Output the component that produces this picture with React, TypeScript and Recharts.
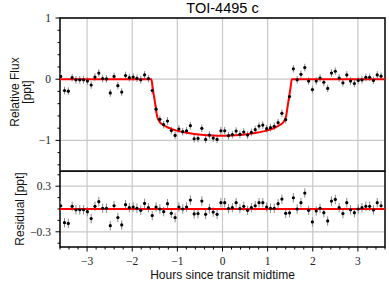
import React from 'react';
import {
  ComposedChart,
  Scatter,
  Line,
  XAxis,
  YAxis,
  ErrorBar,
  CartesianGrid,
  ReferenceLine,
  ReferenceArea,
} from 'recharts';

// binned photometry, hours from transit midtime
const hours = [
  -3.585, -3.5, -3.416, -3.331, -3.247, -3.162, -3.078, -2.993, -2.909, -2.825,
  -2.74, -2.655, -2.571, -2.486, -2.402, -2.318, -2.233, -2.148, -2.064, -1.979,
  -1.895, -1.811, -1.726, -1.641, -1.557, -1.472, -1.388, -1.303, -1.219, -1.134,
  -1.05, -0.966, -0.881, -0.796, -0.712, -0.628, -0.543, -0.458, -0.374, -0.29,
  -0.205, -0.12, -0.036, 0.049, 0.133, 0.218, 0.302, 0.386, 0.471, 0.556,
  0.64, 0.725, 0.809, 0.893, 0.978, 1.063, 1.147, 1.232, 1.316, 1.4,
  1.485, 1.57, 1.654, 1.738, 1.823, 1.908, 1.992, 2.077, 2.161, 2.245,
  2.33, 2.414, 2.499, 2.584, 2.668, 2.753, 2.837, 2.922, 3.006, 3.09,
  3.175, 3.26, 3.344, 3.428, 3.513,
];

// relative flux [ppt]
const flux = [
  0.045, -0.185, -0.195, 0.025, -0.01, -0.01, -0.01, -0.03, -0.095, 0.035,
  0.1, 0.01, 0.005, -0.225, 0.045, -0.105, -0.21, 0.06, 0.025, 0.035,
  0.015, -0.01, 0.07, 0.01, -0.185, -0.49, -0.656, -0.743, -0.683, -0.84,
  -0.918, -0.814, -0.858, -0.842, -0.76, -0.973, -0.967, -0.803, -0.984, -0.913,
  -0.962, -0.984, -0.842, -0.842, -0.923, -0.907, -0.847, -0.902, -0.863, -0.913,
  -0.869, -0.825, -0.765, -0.749, -0.809, -0.792, -0.77, -0.71, -0.557, -0.661,
  -0.284, 0.17, -0.01, 0.08, 0.19, -0.03, -0.17, -0.03, 0.02, -0.05,
  -0.15, 0.1, 0.13, 0.02, -0.06, 0.07, -0.03, -0.07, -0.02, -0.01,
  0.03, 0.03, -0.02, 0.07, 0.05,
];

// residual [ppt]
const residual = [
  0.043, -0.18, -0.19, 0.035, -0.01, -0.01, -0.01, -0.035, -0.126, 0.035,
  0.096, 0.01, 0.01, -0.22, 0.043, -0.113, -0.21, 0.057, 0.017, 0.026,
  0.01, -0.017, 0.074, 0.017, -0.087, 0.026, 0.0, -0.035, 0.07, -0.057,
  -0.113, 0.026, 0.0, 0.026, 0.117, -0.065, -0.06, 0.104, -0.07, 0.004,
  -0.04, -0.07, 0.083, 0.083, 0.004, 0.017, 0.083, 0.004, 0.035, -0.017,
  0.017, 0.043, 0.083, 0.083, 0.026, 0.01, 0.01, 0.07, 0.13, -0.057,
  -0.05, 0.148, 0.0, 0.083, 0.21, -0.017, -0.17, -0.026, 0.01, -0.048,
  -0.157, 0.104, 0.126, 0.017, -0.06, 0.083, -0.01, -0.048, 0.0, 0.017,
  0.035, 0.035, -0.013, 0.083, 0.043,
];

const fluxErr = 0.062;

// transit model curve
const modelHours = [
  -3.6, -1.576, -1.55, -1.52, -1.48, -1.45, -1.42, -1.38, -1.32, -1.22,
  -1.02, -0.82, -0.62, -0.42, -0.22, -0.02, 0.18, 0.38, 0.58, 0.78,
  0.98, 1.18, 1.28, 1.34, 1.38, 1.41, 1.44, 1.48, 1.51, 1.536, 3.6,
];
const modelFlux = [
  0, 0, -0.124, -0.267, -0.457, -0.6, -0.665, -0.71, -0.745, -0.785,
  -0.84, -0.872, -0.895, -0.91, -0.918, -0.922, -0.918, -0.91, -0.895, -0.872,
  -0.84, -0.785, -0.745, -0.71, -0.665, -0.6, -0.457, -0.267, -0.124, 0, 0,
];

const hourTicks = [-3, -2, -1, 0, 1, 2, 3];
const hourMinor = Array.from({ length: 37 }, (_, i) => Math.round((-3.6 + i * 0.2) * 10) / 10);
const fluxMajor = [-1, 0, 1];
const fluxMinor = [-1.4, -1.2, -1, -0.8, -0.6, -0.4, -0.2, 0, 0.2, 0.4, 0.6, 0.8, 1];
const residMajor = [-0.3, 0.3];
const residMinor = [-0.45, -0.3, -0.15, 0, 0.15, 0.3, 0.45];

const fluxData = hours.map((t, i) => ({ t, f: flux[i], e: fluxErr }));
const residData = hours.map((t, i) => ({ t, r: residual[i], e: fluxErr }));
const modelData = modelHours.map((t, i) => ({ t, m: modelFlux[i] }));

const TICK_FONT = '"Liberation Serif", "DejaVu Serif", serif';
const LABEL_FONT = '"Liberation Sans", Arial, sans-serif';
const GRID = '#c8c8c8';

const fmt = (v: number) => (v < 0 ? '\u2212' + String(Math.abs(v)) : String(v));
const isIn = (arr: number[], v: number) => arr.some((m) => Math.abs(m - v) < 1e-9);

function leftTick(majors: number[]) {
  return (props: any) => {
    const { x, y, payload } = props;
    const major = isIn(majors, payload.value);
    return (
      <g>
        <line x1={x - (major ? 4.5 : 2.5)} x2={x} y1={y} y2={y} stroke="#000" strokeWidth={1} />
        {major && (
          <text x={x - 9} y={y} textAnchor="end" dominantBaseline="central"
            fontFamily={TICK_FONT} fontSize={11.5} fill="#222">
            {fmt(payload.value)}
          </text>
        )}
      </g>
    );
  };
}

function bottomTick(props: any) {
  const { x, y, payload } = props;
  const major = isIn(hourTicks, payload.value);
  return (
    <g>
      <line x1={x} x2={x} y1={y} y2={y + (major ? 4.5 : 2.5)} stroke="#000" strokeWidth={1} />
      {major && (
        <text x={x} y={y + 14} textAnchor="middle" dominantBaseline="central"
          fontFamily={TICK_FONT} fontSize={11.5} fill="#222">
          {fmt(payload.value)}
        </text>
      )}
    </g>
  );
}

const dot = (props: any) => <circle cx={props.cx} cy={props.cy} r={1.6} fill="#000" />;
const noDot = () => <g />;

export default function App() {
  return (
    <div style={{ position: 'absolute', left: 0, top: 0, width: 389, height: 292, background: '#fff' }}>
      <div style={{ position: 'absolute', left: 60, width: 325, top: 0, textAlign: 'center',
        fontFamily: LABEL_FONT, fontSize: 14.5, lineHeight: '17px', color: '#000' }}>
        TOI-4495 c
      </div>

      <div style={{ position: 'absolute', left: 21, top: 92, transform: 'translate(-50%, -50%) rotate(-90deg)',
        fontFamily: LABEL_FONT, fontSize: 12, lineHeight: '11.5px', textAlign: 'center', whiteSpace: 'nowrap', color: '#111' }}>
        Relative Flux<br />[ppt]
      </div>

      <div style={{ position: 'absolute', left: 20, top: 209, transform: 'translate(-50%, -50%) rotate(-90deg)',
        fontFamily: LABEL_FONT, fontSize: 12, lineHeight: '14px', whiteSpace: 'nowrap', color: '#111' }}>
        Residual [ppt]
      </div>

      <div style={{ position: 'absolute', left: 60, width: 325, top: 268, textAlign: 'center',
        fontFamily: LABEL_FONT, fontSize: 12, lineHeight: '14px', color: '#111' }}>
        Hours since transit midtime
      </div>

      <div style={{ position: 'absolute', left: 0, top: 0 }}>
        <ComposedChart width={389} height={172} margin={{ top: 18, right: 4, bottom: 1, left: 0 }}>
          <CartesianGrid stroke={GRID} strokeWidth={1.2} horizontalValues={fluxMajor} verticalValues={hourTicks} />
          <XAxis type="number" dataKey="t" domain={[-3.6, 3.6]} ticks={hourTicks} hide allowDataOverflow />
          <YAxis type="number" domain={[-1.5, 1]} width={60} ticks={fluxMinor} interval={0}
            tick={leftTick(fluxMajor)} tickLine={false} axisLine={false} tickSize={0} tickMargin={0} allowDataOverflow />
          <Scatter data={fluxData} dataKey="f" shape={noDot} isAnimationActive={false}>
            <ErrorBar dataKey="e" direction="y" width={0} stroke="#8a8a8a" strokeWidth={1} isAnimationActive={false} />
          </Scatter>
          <Line data={modelData} dataKey="m" type="monotone" stroke="#ff0000" strokeWidth={2}
            dot={false} activeDot={false} isAnimationActive={false} />
          <Scatter data={fluxData} dataKey="f" shape={dot} isAnimationActive={false} />
          <ReferenceArea x1={-3.6} x2={3.6} y1={-1.5} y2={1} fill="none" stroke="#000" strokeWidth={1.5} />
        </ComposedChart>
      </div>

      <div style={{ position: 'absolute', left: 0, top: 171 }}>
        <ComposedChart width={389} height={121} margin={{ top: 0, right: 4, bottom: 15, left: 0 }}>
          <CartesianGrid stroke={GRID} strokeWidth={1.2} horizontalValues={[-0.3, 0, 0.3]} verticalValues={hourTicks} />
          <XAxis type="number" dataKey="t" domain={[-3.6, 3.6]} ticks={hourMinor} interval={0} height={30}
            tick={bottomTick} tickLine={false} axisLine={false} tickSize={0} tickMargin={0} allowDataOverflow />
          <YAxis type="number" domain={[-0.5, 0.5]} width={60} ticks={residMinor} interval={0}
            tick={leftTick(residMajor)} tickLine={false} axisLine={false} tickSize={0} tickMargin={0} allowDataOverflow />
          <Scatter data={residData} dataKey="r" shape={noDot} isAnimationActive={false}>
            <ErrorBar dataKey="e" direction="y" width={0} stroke="#8a8a8a" strokeWidth={1} isAnimationActive={false} />
          </Scatter>
          <ReferenceLine y={0} stroke="#ff0000" strokeWidth={2} />
          <Scatter data={residData} dataKey="r" shape={dot} isAnimationActive={false} />
          <ReferenceArea x1={-3.6} x2={3.6} y1={-0.5} y2={0.5} fill="none" stroke="#000" strokeWidth={1.5} />
        </ComposedChart>
      </div>
    </div>
  );
}
